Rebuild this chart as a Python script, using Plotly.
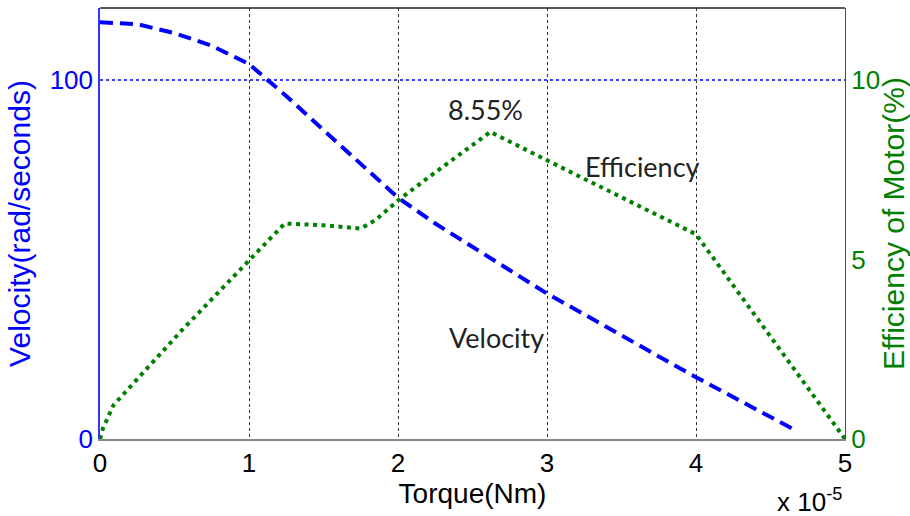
import plotly.graph_objects as go

# Torque in units of 1e-5 Nm
vel_torque = [0, 0.25, 0.5, 0.75, 1.0, 1.25, 1.5, 1.75, 2.0, 2.25, 2.5, 2.75, 3.0, 3.25, 3.5, 3.75, 4.0, 4.25, 4.5, 4.65]
velocity = [116, 115.5, 113, 109.5, 104.4, 95.5, 86, 76.5, 67.2, 60, 53.5, 46.8, 40.5, 34.7, 29, 23, 17.2, 11.7, 6.1, 2.8]

eff_torque = [0, 0.02, 0.09, 0.55, 1.0, 1.24, 1.5, 1.75, 1.85, 2.0, 2.2, 2.62, 3.0, 3.33, 4.0, 5.0]
efficiency = [0, 0.3, 0.94, 3.03, 4.97, 6.0, 5.95, 5.86, 6.1, 6.64, 7.27, 8.55, 7.76, 7.07, 5.7, 0]

x_ticks = [0, 1, 2, 3, 4, 5]
vel_ticks = [0, 100]
eff_ticks = [0, 5, 10]

BLUE = "#0000ff"
GREEN = "#008000"
AX_FONT = "Liberation Sans, Arial, sans-serif"
ANN_FONT = "Lato, Open Sans, sans-serif"

fig = go.Figure()
fig.add_trace(go.Scatter(x=eff_torque, y=efficiency, yaxis="y2", mode="lines",
                         line=dict(color=GREEN, width=4, dash="4px,4.5px"), showlegend=False))
fig.add_trace(go.Scatter(x=vel_torque, y=velocity, yaxis="y", mode="lines",
                         line=dict(color=BLUE, width=4, dash="13px,7px"), showlegend=False))

fig.update_layout(
    width=910, height=516,
    margin=dict(l=100, r=65, t=8, b=77),
    plot_bgcolor="white", paper_bgcolor="white",
    xaxis=dict(range=[0, 5], tickvals=x_ticks, ticktext=[str(v) for v in x_ticks],
               showgrid=True, gridcolor="#333333", griddash="dot", gridwidth=1,
               showline=True, linecolor="#888888", linewidth=1.5, zeroline=False,
               ticks="", tickfont=dict(family=AX_FONT, size=26, color="black"),
               title=dict(text="Torque(Nm)", font=dict(family=AX_FONT, size=28, color="black"), standoff=4),
               automargin=False),
    yaxis=dict(range=[0, 120], tickvals=vel_ticks, ticktext=[str(v) for v in vel_ticks],
               side="left",
               showgrid=True, gridcolor="rgb(60,60,255)", griddash="dot", gridwidth=1.5,
               showline=True, linecolor="#3333ff", linewidth=1.5, zeroline=False, ticks="",
               tickfont=dict(family=AX_FONT, size=26, color=BLUE),
               title=dict(text="Velocity(rad/seconds)", font=dict(family=AX_FONT, size=30, color=BLUE), standoff=10),
               automargin=False),
    yaxis2=dict(range=[0, 12], tickvals=eff_ticks, ticktext=[str(v) for v in eff_ticks],
                overlaying="y", side="right", showgrid=False,
                showline=True, linecolor=GREEN, linewidth=1, zeroline=False, ticks="",
                tickfont=dict(family=AX_FONT, size=26, color=GREEN),
                title=dict(text="Efficiency of Motor(%)", font=dict(family=AX_FONT, size=30, color=GREEN), standoff=8),
                automargin=False),
    shapes=[dict(type="line", xref="paper", yref="paper", x0=0, x1=1, y0=1, y1=1,
                 line=dict(color="#222222", width=1.5))],
    annotations=[
        dict(x=2.59, y=91.7, xref="x", yref="y", text="8.55%", showarrow=False,
             font=dict(family=ANN_FONT, size=27, color="#222222")),
        dict(x=3.64, y=76, xref="x", yref="y", text="Efficiency", showarrow=False,
             font=dict(family=ANN_FONT, size=27, color="#222222")),
        dict(x=2.66, y=28.3, xref="x", yref="y", text="Velocity", showarrow=False,
             font=dict(family=ANN_FONT, size=27, color="#222222")),
        dict(x=0.953, y=-0.142, xref="paper", yref="paper", text="x 10<sup>-5</sup>", showarrow=False,
             xanchor="center", yanchor="middle",
             font=dict(family=AX_FONT, size=26, color="black")),
    ],
)

fig.write_html("out.html")
